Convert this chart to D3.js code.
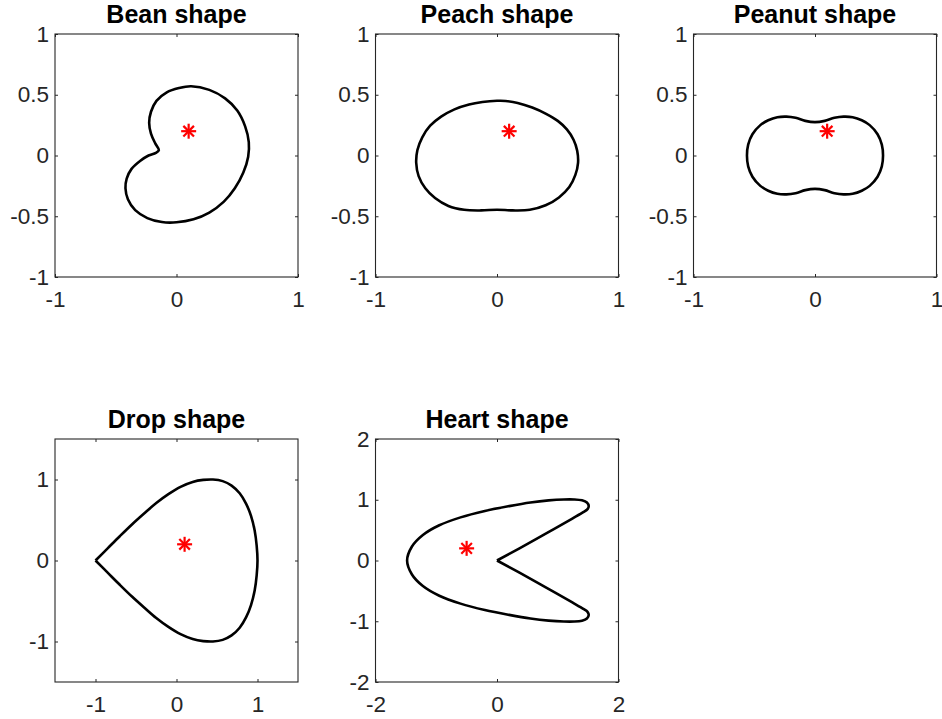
<!DOCTYPE html>
<html>
<head>
<meta charset="utf-8">
<script src="https://cdn.jsdelivr.net/npm/d3@7"></script>
<style>
  body { margin: 0; background: #fff; }
  text { font-family: "Liberation Sans", Arial, Helvetica, sans-serif; }
</style>
</head>
<body>
<svg id="fig" width="942" height="719"></svg>
<script>
// Boundary points of each shape, [x, y], traced counter-clockwise.
const beanPts = [
  [0.12, 0.57], [0.02, 0.555], [-0.08, 0.52], [-0.165, 0.45], [-0.21, 0.36],
  [-0.225, 0.27], [-0.21, 0.18], [-0.175, 0.10], [-0.145, 0.045], [-0.17, 0.022],
  [-0.23, 0.0], [-0.30, -0.045], [-0.37, -0.11], [-0.41, -0.19], [-0.42, -0.27],
  [-0.40, -0.36], [-0.34, -0.45], [-0.24, -0.515], [-0.12, -0.548], [0.0, -0.55],
  [0.14, -0.525], [0.27, -0.47], [0.39, -0.38], [0.48, -0.27], [0.55, -0.14],
  [0.59, -0.01], [0.595, 0.11], [0.565, 0.24], [0.50, 0.37], [0.40, 0.47], [0.27, 0.54]
];
const peachPts = [
  [0.0, 0.45], [-0.12, 0.44], [-0.23, 0.42], [-0.35, 0.38], [-0.46, 0.32],
  [-0.55, 0.245], [-0.615, 0.15], [-0.655, 0.045], [-0.665, -0.06], [-0.645, -0.17],
  [-0.59, -0.27], [-0.51, -0.35], [-0.40, -0.415], [-0.27, -0.447], [-0.13, -0.452],
  [0.0, -0.446], [0.13, -0.452], [0.27, -0.447], [0.40, -0.41], [0.51, -0.345],
  [0.595, -0.26], [0.645, -0.16], [0.667, -0.06], [0.66, 0.04], [0.63, 0.13],
  [0.575, 0.215], [0.50, 0.285], [0.40, 0.345], [0.29, 0.395], [0.17, 0.433], [0.07, 0.449]
];
const peanutPts = [
  [0.0, 0.275], [-0.08, 0.285], [-0.16, 0.31], [-0.235, 0.32], [-0.31, 0.315],
  [-0.385, 0.29], [-0.45, 0.25], [-0.515, 0.175], [-0.55, 0.09], [-0.56, 0.0],
  [-0.55, -0.09], [-0.515, -0.175], [-0.45, -0.25], [-0.385, -0.29], [-0.31, -0.315],
  [-0.235, -0.32], [-0.16, -0.31], [-0.08, -0.285], [0.0, -0.275], [0.08, -0.285],
  [0.16, -0.31], [0.235, -0.32], [0.31, -0.315], [0.385, -0.29], [0.45, -0.25],
  [0.515, -0.175], [0.55, -0.09], [0.56, 0.0], [0.55, 0.09], [0.515, 0.175],
  [0.45, 0.25], [0.385, 0.29], [0.31, 0.315], [0.235, 0.32], [0.16, 0.31], [0.08, 0.285]
];
// Drop and heart have a cusp: the path starts and ends on it.
const dropPts = [
  [-1.0, 0.0], [-0.85, 0.15], [-0.70, 0.30], [-0.55, 0.445], [-0.40, 0.58],
  [-0.25, 0.71], [-0.10, 0.82], [0.05, 0.91], [0.20, 0.97], [0.33, 0.995],
  [0.45, 1.0], [0.57, 0.98], [0.68, 0.925], [0.78, 0.83], [0.86, 0.70],
  [0.92, 0.55], [0.965, 0.37], [0.99, 0.18], [1.0, 0.0], [0.99, -0.18],
  [0.965, -0.37], [0.92, -0.55], [0.86, -0.70], [0.78, -0.83], [0.68, -0.925],
  [0.57, -0.98], [0.45, -1.0], [0.33, -0.995], [0.20, -0.97], [0.05, -0.91],
  [-0.10, -0.82], [-0.25, -0.71], [-0.40, -0.58], [-0.55, -0.445], [-0.70, -0.30],
  [-0.85, -0.15], [-1.0, 0.0]
];
const heartPts = [
  [0.0, 0.0], [0.37, 0.20], [0.81, 0.445], [1.24, 0.69], [1.42, 0.795],
  [1.49, 0.845], [1.51, 0.895], [1.48, 0.955], [1.40, 0.99], [1.27, 1.005],
  [1.10, 1.005], [0.85, 0.99], [0.55, 0.955], [0.20, 0.895], [-0.20, 0.815],
  [-0.60, 0.71], [-0.95, 0.58], [-1.22, 0.42], [-1.40, 0.23], [-1.48, 0.0],
  [-1.40, -0.23], [-1.22, -0.42], [-0.95, -0.58], [-0.60, -0.71], [-0.20, -0.815],
  [0.20, -0.895], [0.55, -0.955], [0.85, -0.99], [1.10, -1.005], [1.27, -1.005],
  [1.40, -0.99], [1.48, -0.955], [1.51, -0.895], [1.49, -0.845], [1.42, -0.795],
  [1.24, -0.69], [0.81, -0.445], [0.37, -0.20], [0.0, 0.0]
];

const titles = ["Bean shape", "Peach shape", "Peanut shape", "Drop shape", "Heart shape"];
const shapes = [beanPts, peachPts, peanutPts, dropPts, heartPts];
const hasCusp = [false, false, false, true, true];
const starPts = [[0.1, 0.2], [0.1, 0.2], [0.1, 0.2], [0.1, 0.2], [-0.5, 0.2]];
const axisLims = [[-1, 1], [-1, 1], [-1, 1], [-1.5, 1.5], [-2, 2]];
const xTicks = [[-1, 0, 1], [-1, 0, 1], [-1, 0, 1], [-1, 0, 1], [-2, 0, 2]];
const yTicks = [
  [-1, -0.5, 0, 0.5, 1], [-1, -0.5, 0, 0.5, 1], [-1, -0.5, 0, 0.5, 1],
  [-1, 0, 1], [-2, -1, 0, 1, 2]
];

const svg = d3.select("#fig");
svg.append("rect").attr("width", 942).attr("height", 719).attr("fill", "#fff");

const S = 243;
const origins = [[55, 34], [375.5, 34], [693.5, 34], [55, 439], [375.5, 439]];
const axisColor = "#262626";
const tickFont = 22.5;
const fmt = d => String(d);

shapes.forEach((pts, i) => {
  const [ox, oy] = origins[i];
  const g = svg.append("g").attr("transform", `translate(${ox},${oy})`);
  const x = d3.scaleLinear().domain(axisLims[i]).range([0, S]);
  const y = d3.scaleLinear().domain(axisLims[i]).range([S, 0]);

  const styleAxis = a => {
    a.select(".domain").remove();
    a.attr("color", axisColor)
     .attr("font-size", tickFont)
     .attr("font-family", '"Liberation Sans", Arial, Helvetica, sans-serif');
    a.selectAll(".tick line").attr("stroke-width", 1);
  };

  g.append("g").attr("transform", `translate(0,${S})`)
    .call(d3.axisBottom(x).tickValues(xTicks[i]).tickFormat(fmt)
      .tickSizeInner(-3).tickSizeOuter(0).tickPadding(14))
    .call(styleAxis);
  g.append("g")
    .call(d3.axisTop(x).tickValues(xTicks[i]).tickFormat("")
      .tickSizeInner(-3).tickSizeOuter(0))
    .call(styleAxis);
  g.append("g")
    .call(d3.axisLeft(y).tickValues(yTicks[i]).tickFormat(fmt)
      .tickSizeInner(-3).tickSizeOuter(0).tickPadding(6))
    .call(styleAxis);
  g.append("g").attr("transform", `translate(${S},0)`)
    .call(d3.axisRight(y).tickValues(yTicks[i]).tickFormat("")
      .tickSizeInner(-3).tickSizeOuter(0))
    .call(styleAxis);

  g.append("rect")
    .attr("x", 0).attr("y", 0).attr("width", S).attr("height", S)
    .attr("fill", "none").attr("stroke", axisColor).attr("stroke-width", 1.1);

  const line = d3.line()
    .x(d => x(d[0])).y(d => y(d[1]))
    .curve(hasCusp[i] ? d3.curveCatmullRom.alpha(0.5) : d3.curveCatmullRomClosed.alpha(0.5));
  g.append("path").datum(pts)
    .attr("d", line)
    .attr("fill", "none").attr("stroke", "#000")
    .attr("stroke-width", 2.6).attr("stroke-linejoin", "round");

  // asterisk marker
  const [sx, sy] = starPts[i];
  const star = g.append("g").attr("transform", `translate(${x(sx)},${y(sy)})`);
  [0, 45, 90, 135].forEach(a => {
    star.append("line")
      .attr("x1", -7.5).attr("x2", 7.5).attr("y1", 0).attr("y2", 0)
      .attr("transform", `rotate(${a})`)
      .attr("stroke", "#ff0000").attr("stroke-width", 2.2);
  });

  g.append("text")
    .attr("x", S / 2).attr("y", -11)
    .attr("text-anchor", "middle")
    .attr("font-size", 25).attr("font-weight", "bold").attr("fill", "#000")
    .text(titles[i]);
});
</script>
</body>
</html>
